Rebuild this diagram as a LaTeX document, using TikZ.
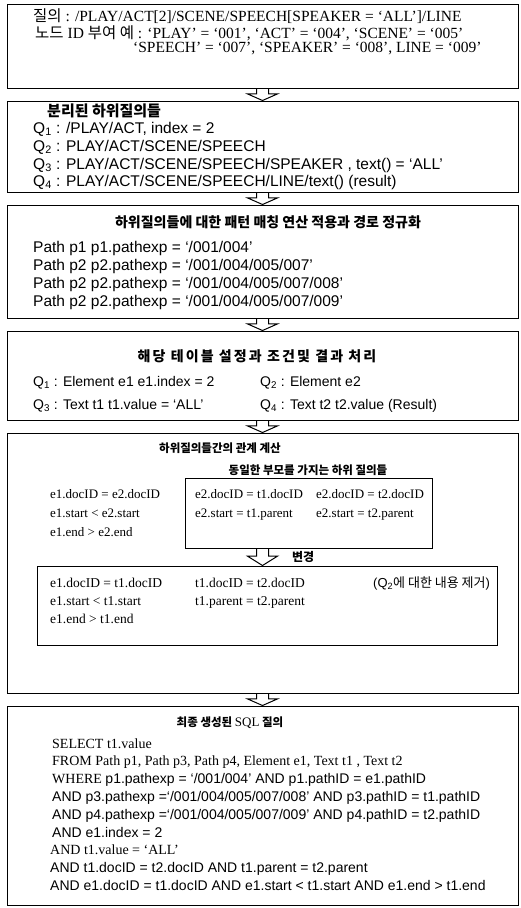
\documentclass[tikz,border=0pt]{standalone}
\usepackage{fontspec}
\setmainfont{Liberation Serif}
\setsansfont{Liberation Sans}
\newfontfamily\kr{Noto Sans CJK KR}
\usetikzlibrary{calc,fit}

\newcommand\hollowdown[2]{%
  \draw[flow] let \p1=(#1), \p2=(#2), \n1={0.45*(\y2-\y1)} in
    (\x1-6,\y1) -- (\x1-6,\y1+\n1) -- (\x1-15,\y1+\n1) -- (\x1,\y2)
    -- (\x1+15,\y1+\n1) -- (\x1+6,\y1+\n1) -- (\x1+6,\y1);}
\newcommand\krsize[1]{\fontsize{#1}{#1}\selectfont\kr\bfseries}

\begin{document}
\begin{tikzpicture}[x=1pt,y=-1pt,font=\fontsize{14}{17}\selectfont,
  panel/.style={draw,line width=1pt,inner sep=0pt},
  row/.style={anchor=base west,inner sep=0pt},
  srow/.style={row,font=\fontsize{14}{17}\selectfont\sffamily},
  bigrow/.style={row,font=\fontsize{15.5}{17}\selectfont\sffamily},
  head/.style={anchor=base,inner sep=0pt,font=\krsize{14}},
  flow/.style={line width=1pt,line join=miter}]
  \path[use as bounding box,fill=white] (0,0) rectangle (521,908);

  \node[panel,fit={(7,4)(518,88)}] (query) {};
  \node[panel,fit={(7,101)(518,192)}] (split) {};
  \node[panel,fit={(7,205)(518,318)}] (match) {};
  \node[panel,fit={(7,331)(518,420)}] (tables) {};
  \node[panel,fit={(7,433)(518,693)}] (rel) {};
  \node[panel,fit={(7,706)(518,905)}] (sql) {};

  \hollowdown{query.south}{split.north}
  \hollowdown{split.south}{match.north}
  \hollowdown{match.south}{tables.north}
  \hollowdown{tables.south}{rel.north}
  \hollowdown{rel.south}{sql.north}

  \begin{scope}[font=\fontsize{15.5}{17}\selectfont]
    \node[row] (qtext) at (33,21)
      {{\kr 질의} : /PLAY/ACT[2]/SCENE/SPEECH[SPEAKER = `ALL']/LINE};
    \node[row] (ids) at (35,38)
      {{\kr 노드} ID {\kr 부여 예} : `PLAY' = `001', `ACT' = `004', `SCENE' = `005'};
    \node[row] (ids2) at (133,52)
      {`SPEECH' = `007', `SPEAKER' = `008', LINE = `009'};
  \end{scope}

  \node[row,font=\krsize{15}] (splithd) at (47,116) {분리된 하위질의들};
  \node[bigrow] (sq1) at (33,133) {Q\textsubscript{1} : /PLAY/ACT, index = 2};
  \node[bigrow] (sq2) at (33,151) {Q\textsubscript{2} : PLAY/ACT/SCENE/SPEECH};
  \node[bigrow] (sq3) at (33,169) {Q\textsubscript{3} : PLAY/ACT/SCENE/SPEECH/SPEAKER , text() = `ALL'};
  \node[bigrow] (sq4) at (33,186) {Q\textsubscript{4} : PLAY/ACT/SCENE/SPEECH/LINE/text() (result)};

  \node[head] (matchhd) at (268,227) {하위질의들에 대한 패턴 매칭 연산 적용과 경로 정규화};
  \node[bigrow] (p1) at (33,252) {Path p1 p1.pathexp = `/001/004'};
  \node[bigrow] (p2) at (33,270) {Path p2 p2.pathexp = `/001/004/005/007'};
  \node[bigrow] (p3) at (33,288) {Path p2 p2.pathexp = `/001/004/005/007/008'};
  \node[bigrow] (p4) at (33,306) {Path p2 p2.pathexp = `/001/004/005/007/009'};

  \node[head,font=\krsize{14}\addfontfeature{LetterSpace=15}] (tableshd) at (257,361)
    {해당 테이블 설정과 조건및 결과 처리};
  \node[srow] (tq1) at (33,386) {Q\textsubscript{1} : Element e1 e1.index = 2};
  \node[srow] (tq2) at (260,386) {Q\textsubscript{2} : Element e2};
  \node[srow] (tq3) at (33,409) {Q\textsubscript{3} : Text t1 t1.value = `ALL'};
  \node[srow] (tq4) at (260,409) {Q\textsubscript{4} : Text t2 t2.value (Result)};

  \node[head,font=\krsize{11.5}] (relhd) at (220,452) {하위질의들간의 관계 계산};
  \node[panel,fit={(185,478)(432,548)}] (same) {};
  \node[head,font=\krsize{11.5},fill=white,inner sep=3pt] (samehd) at (308,474)
    {동일한 부모를 가지는 하위 질의들};
  \begin{scope}[font=\fontsize{13}{17}\selectfont]
    \node[row] (ra1) at (50,498) {e1.docID = e2.docID};
    \node[row] (ra2) at (50,517) {e1.start < e2.start};
    \node[row] (ra3) at (50,536) {e1.end > e2.end};
    \node[row] (rb1) at (195,498) {e2.docID = t1.docID};
    \node[row] (rb2) at (195,517) {e2.start = t1.parent};
    \node[row] (rc1) at (316,498) {e2.docID = t2.docID};
    \node[row] (rc2) at (316,517) {e2.start = t2.parent};
  \end{scope}

  \node[panel,fit={(37,566)(497,645)}] (merged) {};
  \hollowdown{rel.south |- same.south}{rel.south |- merged.north}
  \node[row,font=\krsize{12}] (change) at (292,561) {변경};
  \begin{scope}[font=\fontsize{13.5}{17}\selectfont]
    \node[row] (ma1) at (50,587) {e1.docID = t1.docID};
    \node[row] (ma2) at (50,605) {e1.start < t1.start};
    \node[row] (ma3) at (50,623) {e1.end > t1.end};
    \node[row] (mb1) at (195,587) {t1.docID = t2.docID};
    \node[row] (mb2) at (195,605) {t1.parent = t2.parent};
  \end{scope}
  \node[row,font=\fontsize{13}{17}\selectfont\sffamily] (mnote) at (373,587)
    {(Q\textsubscript{2}{\kr 에 대한 내용 제거})};

  \node[head,font=\krsize{11.5}] (sqlhd) at (230,726) {최종 생성된 {\rmfamily\mdseries\fontsize{13}{13}\selectfont SQL} 질의};
  \node[row] (s1) at (52,748) {SELECT t1.value};
  \node[row] (s2) at (52,765) {FROM Path p1, Path p3, Path p4, Element e1, Text t1 , Text t2};
  \node[row] (s3) at (52,783) {WHERE \sffamily p1.pathexp = `/001/004' AND p1.pathID = e1.pathID};
  \node[srow] (s4) at (52,801) {AND p3.pathexp =`/001/004/005/007/008' AND p3.pathID = t1.pathID};
  \node[srow] (s5) at (52,819) {AND p4.pathexp =`/001/004/005/007/009' AND p4.pathID = t2.pathID};
  \node[srow] (s6) at (52,837) {AND e1.index = 2};
  \node[row] (s7) at (50,854) {AND t1.value = `ALL'};
  \node[srow] (s8) at (50,872) {AND t1.docID = t2.docID AND t1.parent = t2.parent};
  \node[srow] (s9) at (50,890) {AND e1.docID = t1.docID AND e1.start < t1.start AND e1.end > t1.end};
\end{tikzpicture}
\end{document}
